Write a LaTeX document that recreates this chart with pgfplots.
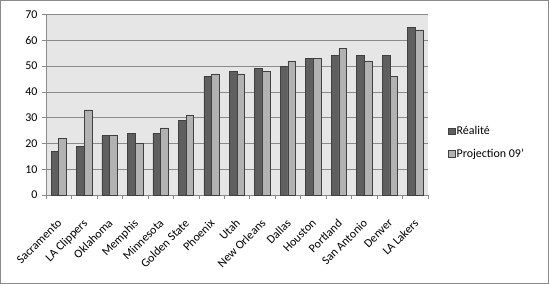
\documentclass[border=0pt]{standalone}
\usepackage{pgfplots}
\pgfplotsset{compat=1.18}
\usepackage{fontspec}
\setmainfont{Carlito}
\definecolor{darkbar}{HTML}{5F5F5F}
\definecolor{lightbar}{HTML}{B2B2B2}
\definecolor{plotbg}{HTML}{E6E6E6}
\definecolor{gridc}{HTML}{8A8A8A}
\definecolor{edgec}{HTML}{404040}
\begin{document}
\begin{tikzpicture}
\begin{axis}[
  at={(0,0)}, anchor=south west,
  scale only axis,
  width=382bp, height=180.5bp,
  ybar=0pt, bar width=7.7bp,
  xmin=-0.5, xmax=14.5,
  ymin=0, ymax=70,
  ytick={0,10,...,70},
  xtick={0,...,14},
  xticklabels={Sacramento,LA Clippers,Oklahoma,Memphis,Minnesota,Golden State,Phoenix,Utah,New Orleans,Dallas,Houston,Portland,San Antonio,Denver,LA Lakers},
  minor xtick={-0.5,0.5,...,14.5},
  major x tick style={draw=none},
  x tick label style={xshift=-2bp, yshift=-19bp, rotate=45, anchor=north east, inner sep=0pt},
  y tick label style={xshift=-1bp},
  tick align=outside,
  major tick length=4bp, minor tick length=4bp,
  tick style={gridc, line width=0.6pt},
  axis lines*=left,
  axis line style={gridc, line width=0.8pt},
  ymajorgrids, grid style={gridc, line width=0.7pt},
  axis background/.style={fill=plotbg},
  ticklabel style={font=\fontsize{12}{13}\selectfont, black},
  /pgf/number format/assume math mode=true,
  legend style={at={(1.052,0.29)}, anchor=west, draw=none, fill=none, font=\fontsize{12}{13}\selectfont, row sep=11bp, inner sep=0pt, nodes={inner sep=1bp}},
  legend image code/.code={\draw[#1, line width=0.6pt] (0cm,-3.3bp) rectangle (7bp,3.3bp);},
  legend cell align=left,
]
\addplot[fill=darkbar, draw=edgec, line width=0.6pt] coordinates {
(0,17) (1,19) (2,23) (3,24) (4,24) (5,29) (6,46) (7,48) (8,49) (9,50) (10,53) (11,54) (12,54) (13,54) (14,65)};
\addplot[fill=lightbar, draw=edgec, line width=0.6pt] coordinates {
(0,22) (1,33) (2,23) (3,20) (4,26) (5,31) (6,47) (7,47) (8,48) (9,52) (10,53) (11,57) (12,52) (13,46) (14,64)};
\legend{Réalité, Projection 09'}
\end{axis}
\pgfresetboundingbox
\useasboundingbox (-46bp,-89bp) rectangle (503bp,195bp);
\draw[gridc, line width=0.8pt] (-45.6bp,-88.6bp) rectangle (502.6bp,194.6bp);
\end{tikzpicture}
\end{document}
